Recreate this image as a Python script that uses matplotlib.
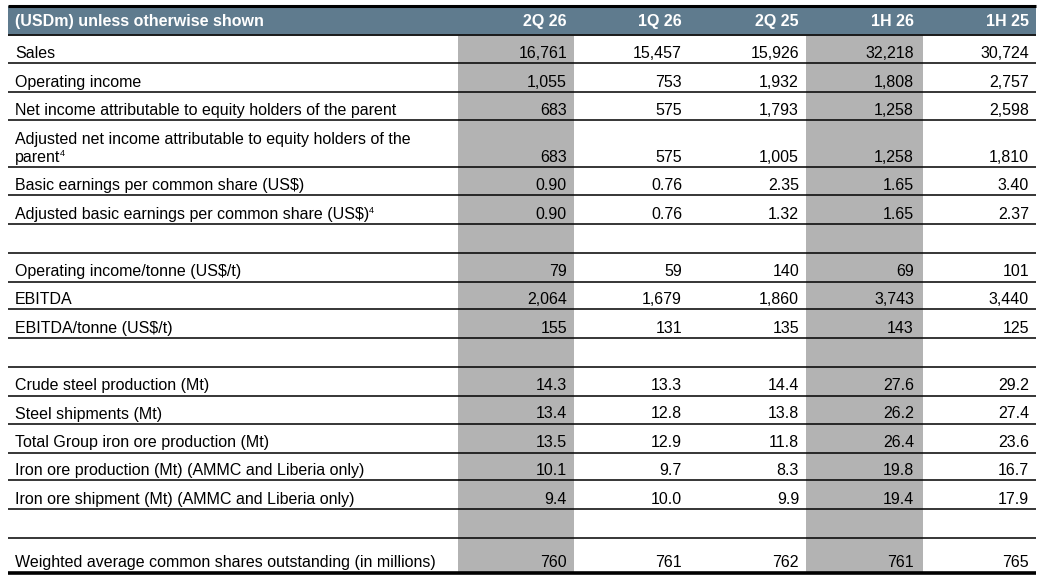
import matplotlib
matplotlib.use("Agg")
import matplotlib.pyplot as plt

plt.rcParams['font.family'] = ['Liberation Sans', 'DejaVu Sans']

# data
header = "(USDm) unless otherwise shown"
periods = ["2Q 26", "1Q 26", "2Q 25", "1H 26", "1H 25"]
labels = [
    "Sales",
    "Operating income",
    "Net income attributable to equity holders of the parent",
    "Adjusted net income attributable to equity holders of the\nparent",
    "Basic earnings per common share (US$)",
    "Adjusted basic earnings per common share (US$)",
    "",
    "Operating income/tonne (US$/t)",
    "EBITDA",
    "EBITDA/tonne (US$/t)",
    "",
    "Crude steel production (Mt)",
    "Steel shipments (Mt)",
    "Total Group iron ore production (Mt)",
    "Iron ore production (Mt) (AMMC and Liberia only)",
    "Iron ore shipment (Mt) (AMMC and Liberia only)",
    "",
    "Weighted average common shares outstanding (in millions)",
]
footnotes = ["", "", "", "4", "", "4", "", "", "", "", "", "", "", "", "", "", "", ""]
q2_26 = ["16,761", "1,055", "683", "683", "0.90", "0.90", "", "79", "2,064", "155", "",
         "14.3", "13.4", "13.5", "10.1", "9.4", "", "760"]
q1_26 = ["15,457", "753", "575", "575", "0.76", "0.76", "", "59", "1,679", "131", "",
         "13.3", "12.8", "12.9", "9.7", "10.0", "", "761"]
q2_25 = ["15,926", "1,932", "1,793", "1,005", "2.35", "1.32", "", "140", "1,860", "135", "",
         "14.4", "13.8", "11.8", "8.3", "9.9", "", "762"]
h1_26 = ["32,218", "1,808", "1,258", "1,258", "1.65", "1.65", "", "69", "3,743", "143", "",
         "27.6", "26.2", "26.4", "19.8", "19.4", "", "761"]
h1_25 = ["30,724", "2,757", "2,598", "1,810", "3.40", "2.37", "", "101", "3,440", "125", "",
         "29.2", "27.4", "23.6", "16.7", "17.9", "", "765"]
columns = [q2_26, q1_26, q2_25, h1_26, h1_25]

# layout (pixels)
W, H = 1042, 578
left, right = 8, 1036
head_top, head_bot = 6, 35
row_lines = [35, 63.3, 92.3, 120.3, 167.3, 195.3, 224.3, 252.7, 281.7, 309.3, 338.3,
             366.7, 395.7, 424, 452.7, 480.3, 509.3, 537.7, 572.7]
col_right = [567, 682, 799, 914, 1029]
shaded = [(458, 574), (806, 923)]
fs = 11.5
head_color = "#5f7b8e"
shade_color = "#b3b3b3"

fig = plt.figure(figsize=(W / 100, H / 100), dpi=100)
ax = fig.add_axes([0, 0, 1, 1])
ax.set_xlim(0, W)
ax.set_ylim(H, 0)
ax.axis("off")

ax.fill_between([left, right], head_top, head_bot, color=head_color, lw=0)
for x0, x1 in shaded:
    ax.fill_between([x0, x1], head_bot, row_lines[-1], color=shade_color, lw=0)

ax.plot([left, right], [head_top, head_top], color="black", lw=2.2, solid_capstyle="butt")
ax.plot([left, right], [head_bot, head_bot], color="#1a1a1a", lw=1.4, solid_capstyle="butt")
for y in row_lines[1:-1]:
    ax.plot([left, right], [y, y], color="black", lw=1.1, solid_capstyle="butt")
ax.plot([left, right], [row_lines[-1], row_lines[-1]], color="black", lw=2.6, solid_capstyle="butt")

ax.text(15, 26, header, color="white", fontsize=fs, fontweight="bold", va="baseline")
for x, p in zip(col_right, periods):
    ax.text(x, 26, p, color="white", fontsize=fs, fontweight="bold", va="baseline", ha="right")

fig.canvas.draw()
renderer = fig.canvas.get_renderer()
inv = ax.transData.inverted()

for i, lab in enumerate(labels):
    base = row_lines[i + 1] - 5.5
    lines = lab.split("\n")
    last = None
    for k, line in enumerate(lines):
        y = base - (len(lines) - 1 - k) * 18
        last = ax.text(15, y, line, fontsize=fs, va="baseline", color="black")
    if footnotes[i] and last is not None:
        bb = last.get_window_extent(renderer=renderer)
        xe = inv.transform((bb.x1, bb.y0))[0]
        ax.text(xe - 0.5, base - 6, footnotes[i], fontsize=6.5, va="baseline", color="black")
    for x, col in zip(col_right, columns):
        if col[i]:
            ax.text(x, base, col[i], fontsize=fs, va="baseline", ha="right", color="black")

fig.savefig("out.png", dpi=100)
